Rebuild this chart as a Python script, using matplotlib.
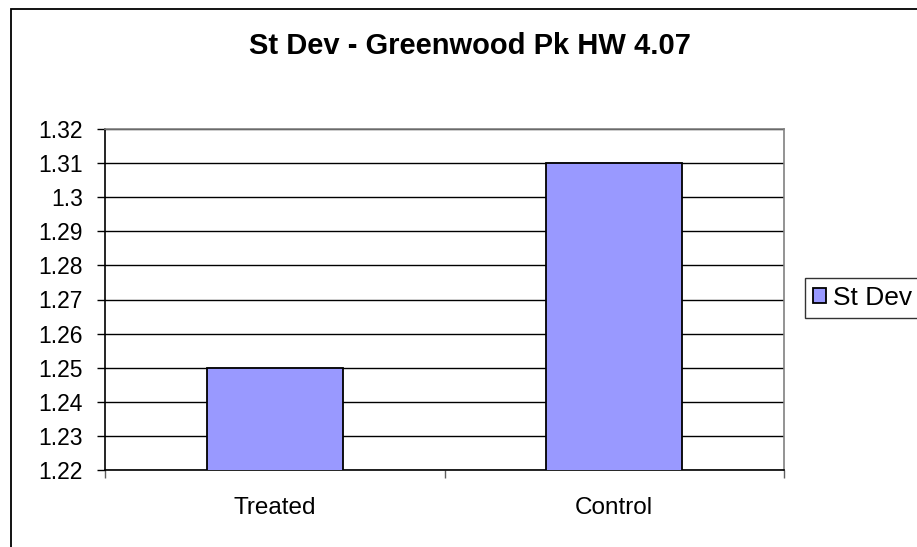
import matplotlib
matplotlib.use("Agg")
import matplotlib.pyplot as plt
from matplotlib.patches import Rectangle

categories = ["Treated", "Control"]
values = [1.25, 1.31]
yticks = [1.22, 1.23, 1.24, 1.25, 1.26, 1.27, 1.28, 1.29, 1.30, 1.31, 1.32]
ytick_labels = ["1.22", "1.23", "1.24", "1.25", "1.26", "1.27", "1.28", "1.29", "1.3", "1.31", "1.32"]
title = "St Dev - Greenwood Pk HW 4.07"
series_name = "St Dev"

plt.rcParams['font.family'] = ['Liberation Sans', 'DejaVu Sans']

W, H = 917, 547
fig = plt.figure(figsize=(W / 100, H / 100), dpi=100)

# outer chart border (extends past right/bottom edges)
fig.patches.append(Rectangle((10.5 / W, -0.05), 1.2, 1 - 8.5 / H + 0.05,
                             transform=fig.transFigure, fill=False,
                             edgecolor='black', linewidth=1.3))

ax = fig.add_axes([105 / W, 1 - 470 / H, (784 - 105) / W, (470 - 129) / H])
x = list(range(len(categories)))
ax.bar(x, values, width=0.4, color='#9999FF', edgecolor='black', linewidth=1.3,
       zorder=3, label=series_name)
ax.set_xlim(-0.5, len(categories) - 0.5)
ax.set_ylim(1.22, 1.32)
ax.set_yticks(yticks)
ax.set_yticklabels(ytick_labels, fontsize=16.5)
ax.yaxis.grid(True, color='black', linewidth=1.0, zorder=0)
ax.tick_params(axis='y', direction='out', length=5.8, width=1, pad=10)

ax.set_xticks([-0.5, 0.5, 1.5])
ax.set_xticklabels([])
ax.tick_params(axis='x', direction='out', length=5.8, width=1, color='#606060')
for xi, c in zip(x, categories):
    ax.text(xi, -0.11, c, transform=ax.get_xaxis_transform(), ha='center',
            va='center', fontsize=17.5)

ax.spines['left'].set_color('black')
ax.spines['bottom'].set_color('black')
ax.spines['top'].set_color('#808080')
ax.spines['right'].set_color('#808080')
for s in ax.spines.values():
    s.set_linewidth(1.2)

fig.text(470 / W, 1 - 46 / H, title, ha='center', va='center',
         fontsize=21, fontweight='bold')

leg = fig.legend(loc='upper left', bbox_to_anchor=(805 / W, 1 - 278 / H),
                 fontsize=19, frameon=True, fancybox=False, handlelength=0.5,
                 handleheight=0.5, handletextpad=0.25, borderpad=0.3,
                 borderaxespad=0)
leg.get_frame().set_edgecolor('black')
leg.get_frame().set_linewidth(1.0)

fig.savefig("out.png", dpi=100)
